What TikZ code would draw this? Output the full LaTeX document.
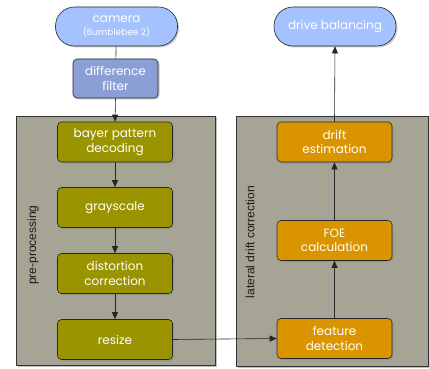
\documentclass[tikz,border=0pt]{standalone}
\usepackage{fontspec}
\setmainfont{Poppins}
\newfontfamily\lblfont{Liberation Sans}
\usetikzlibrary{shadows,arrows.meta}
\definecolor{camblue}{HTML}{A4C2FF}
\definecolor{filtblue}{HTML}{8A9FD6}
\definecolor{olivebox}{HTML}{9A9400}
\definecolor{orangebox}{HTML}{D99400}
\definecolor{panelgray}{HTML}{A6A595}
\tikzset{
  panel/.style={draw=black!80, line width=0.6pt, fill=panelgray, drop shadow={opacity=0.5, shadow xshift=1.5pt, shadow yshift=-1.5pt}},
  basebox/.style={draw=black!85, line width=0.6pt, rounded corners=4pt, text=white, align=center, font=\fontsize{12}{14.5}\selectfont, inner sep=0pt, drop shadow={opacity=0.4, shadow xshift=1.5pt, shadow yshift=-1.5pt}},
  olive/.style={basebox, fill=olivebox, minimum width=115pt, minimum height=40pt},
  orange/.style={basebox, fill=orangebox, minimum width=115pt, minimum height=40pt},
  stadium/.style={basebox, fill=camblue, rounded corners=19pt, minimum width=122pt, minimum height=39pt},
  filt/.style={basebox, fill=filtblue, minimum width=85pt, minimum height=39pt},
  conn/.style={black!85, line width=0.6pt},
  arr/.style={conn, -{Triangle[length=7pt,width=6pt]}},
  lbl/.style={font=\lblfont\fontsize{12}{13}\selectfont, rotate=90, text=black!90}
}
\begin{document}
\begin{tikzpicture}[x=1pt,y=-1pt]
\useasboundingbox (0,0) rectangle (429,369);
\fill[white] (0,0) rectangle (429,369);
% panels
\node[panel, minimum width=199pt, minimum height=249pt, inner sep=0pt] (pre) at (116,240.5) {};
\node[panel, minimum width=192pt, minimum height=250pt, inner sep=0pt] (lat) at (332,241) {};
\node[lbl] (prelbl) at (33,245) {pre-processing};
\node[lbl] (latlbl) at (250,242) {lateral drift correction};
% top
\node[stadium] (cam) at (116.5,26.5) {camera\\[-2pt]{\fontsize{9}{10}\selectfont(Bumblebee 2)}};
\node[filt] (filt) at (115.5,78.5) {difference\\filter};
\node[stadium] (drive) at (335,26.5) {drive balancing};
% left boxes
\node[olive] (bayer) at (115,142) {bayer pattern\\decoding};
\node[olive] (gray) at (115,207.5) {grayscale};
\node[olive] (dist) at (115,273.5) {distortion\\correction};
\node[olive] (resize) at (115,339.5) {resize};
% right boxes
\node[orange] (drift) at (334.5,142) {drift\\estimation};
\node[orange] (foe) at (334.5,240.5) {FOE\\calculation};
\node[orange] (feat) at (334.5,338.5) {feature\\detection};
% connectors
\draw[conn] (cam) -- (filt);
\draw[arr] (filt.south) -- (bayer.north);
\draw[arr] (bayer) -- (gray);
\draw[arr] (gray) -- (dist);
\draw[arr] (dist) -- (resize);
\draw[arr] (resize.east) -- (feat.west);
\draw[arr] (feat) -- (foe);
\draw[arr] (foe) -- (drift);
\draw[arr] (drift.north) -- (drive.south);
\end{tikzpicture}
\end{document}
